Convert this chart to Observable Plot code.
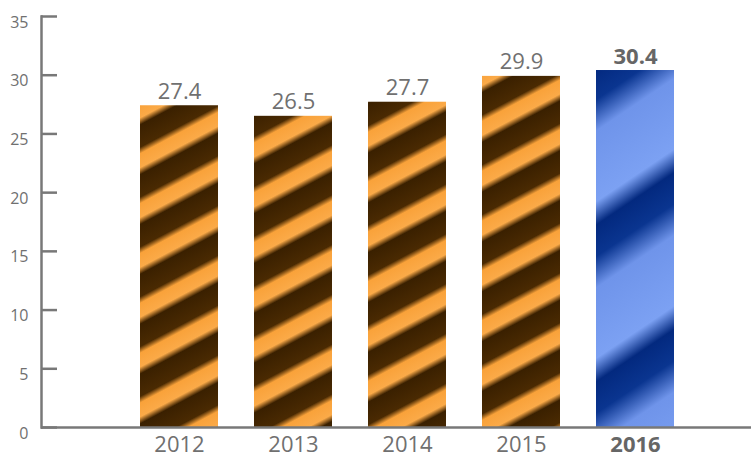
<!DOCTYPE html>
<html><head><meta charset="utf-8">
<script src="https://cdn.jsdelivr.net/npm/d3@7"></script>
<script src="https://cdn.jsdelivr.net/npm/@observablehq/plot@0.6"></script>
<style>body{margin:0;background:#fff} svg{display:block}</style>
</head><body><div id="chart"></div>
<script>
const years = ["2012", "2013", "2014", "2015", "2016"];
const values = [27.4, 26.5, 27.7, 29.9, 30.4];
const highlightYear = "2016";
const yTicks = [0, 5, 10, 15, 20, 25, 30, 35];

const data = years.map((year, i) => ({year, value: values[i]}));
const normalData = data.filter(d => d.year !== highlightYear);
const highlightData = data.filter(d => d.year === highlightYear);

const gray = "#707070";
const axisGray = "#787878";

const chart = Plot.plot({
  width: 751, height: 457,
  marginLeft: 41, marginRight: 0, marginTop: 16, marginBottom: 30,
  style: {fontFamily: "'Open Sans', sans-serif", background: "#fff", color: gray},
  x: {type: "band", domain: years, range: [122, 693], paddingInner: 0.312, paddingOuter: 0.156, axis: null},
  y: {domain: [0, 35], axis: null},
  marks: [
    Plot.barY(normalData, {x: "year", y: "value", fill: "url(#orangeStripe)"}),
    Plot.barY(highlightData, {x: "year", y: "value", fill: "url(#blueStripe)"}),
    Plot.frame({anchor: "left", stroke: axisGray, strokeWidth: 2.5}),
    Plot.ruleY([0], {stroke: axisGray, strokeWidth: 2.5}),
    Plot.axisY({ticks: yTicks, tickSize: 16, dx: 16, tickFormat: () => "", stroke: axisGray, strokeWidth: 2.5, label: null}),
    Plot.text(yTicks, {y: d => d, frameAnchor: "left", text: d => String(d), textAnchor: "end", dx: -13, dy: 6, fontSize: 16, fill: gray}),
    Plot.text(normalData, {x: "year", y: "value", text: d => d.value.toFixed(1), dy: -7, lineAnchor: "bottom", fontSize: 22, fill: gray}),
    Plot.text(highlightData, {x: "year", y: "value", text: d => d.value.toFixed(1), dy: -7, lineAnchor: "bottom", fontSize: 22, fontWeight: "bold", fill: "#666"}),
    Plot.text(normalData, {x: "year", frameAnchor: "bottom", text: "year", dy: 24, fontSize: 22, fill: gray}),
    Plot.text(highlightData, {x: "year", frameAnchor: "bottom", text: "year", dy: 24, fontSize: 22, fontWeight: "bold", fill: "#666"})
  ]
});

// stripe textures
const svg = d3.select(chart);
const defs = svg.insert("defs", ":first-child");
function stripe(id, angleDeg, period, stops) {
  const a = angleDeg * Math.PI / 180;
  const g = defs.append("linearGradient")
    .attr("id", id)
    .attr("gradientUnits", "userSpaceOnUse")
    .attr("spreadMethod", "repeat")
    .attr("x1", 0).attr("y1", 0)
    .attr("x2", period * Math.sin(a)).attr("y2", period * Math.cos(a));
  stops.forEach(([o, c]) => g.append("stop").attr("offset", o).attr("stop-color", c));
}
stripe("orangeStripe", 28, 44, [
  [0, "#3a2000"], [0.45, "#4a2a02"], [0.58, "#f9a23a"], [0.86, "#fbaa48"], [1, "#3a2000"]
]);
stripe("blueStripe", 34, 130, [
  [0, "#03297f"], [0.2, "#0a3590"], [0.4, "#6f94ea"], [0.85, "#7ca1f3"], [1, "#03297f"]
]);

document.getElementById("chart").appendChild(chart);
</script>
</body></html>
